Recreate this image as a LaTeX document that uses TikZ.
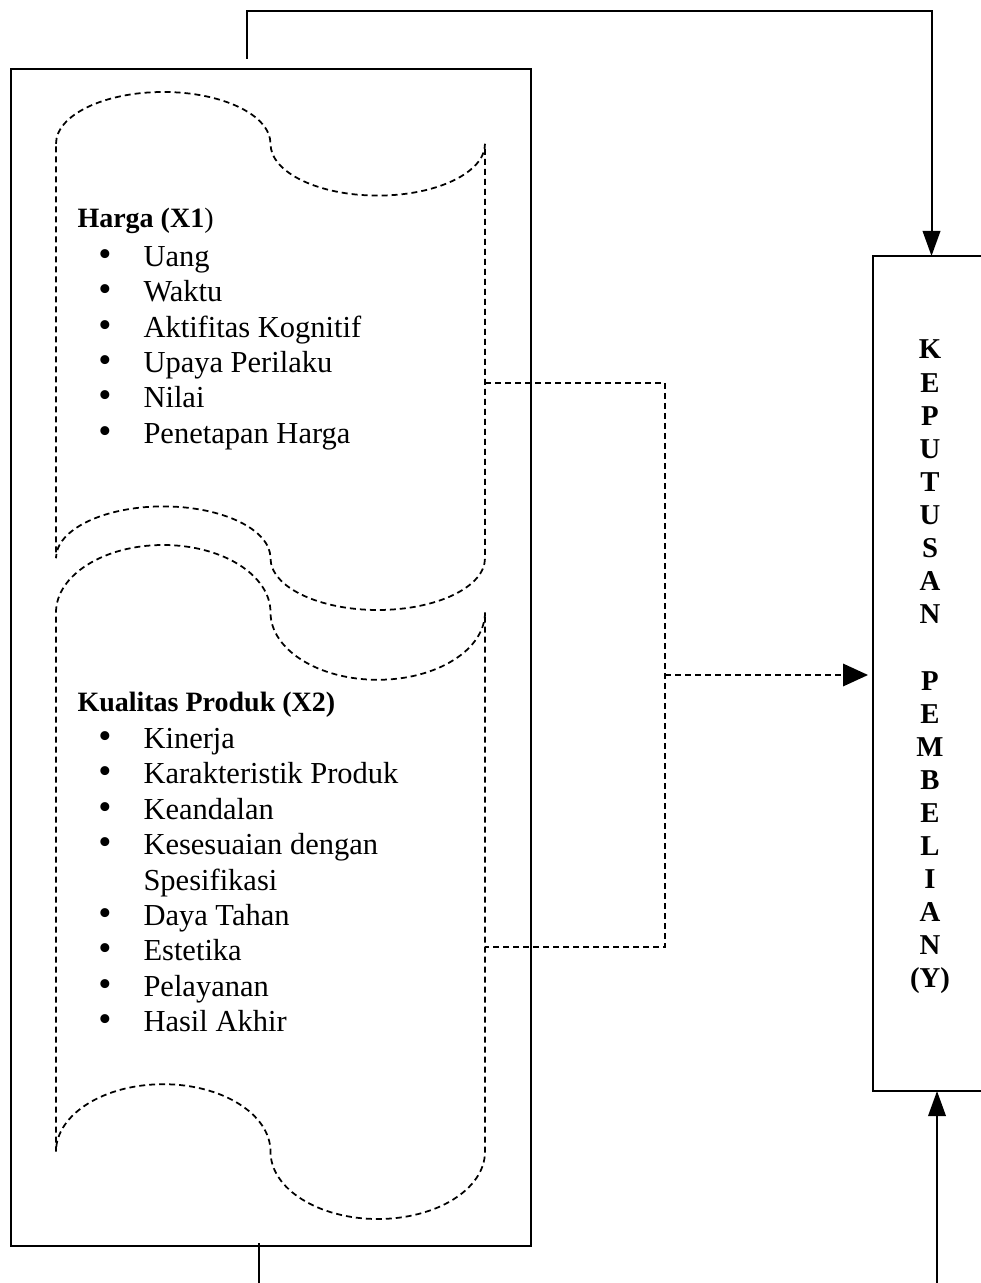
\documentclass[tikz,border=0pt]{standalone}
\usepackage{fontspec}
\setmainfont{Liberation Serif}
\usetikzlibrary{arrows.meta,calc}
\newcommand\drawtape[2]{%
  \pgfmathsetmacro\tT{#1}\pgfmathsetmacro\tB{#2}%
  \pgfmathsetmacro\ta{(\tB-\tT)/10}%
  \pgfmathsetmacro\mt{\tT+\ta}\pgfmathsetmacro\mb{\tB-\ta}%
  \pgfmathsetmacro\ka{0.5523*\ta}%
  \draw[dash line] (56,\mt) .. controls (56,{\mt-\ka}) and ({163.25-59.23},\tT) .. (163.25,\tT)
    .. controls ({163.25+59.23},\tT) and (270.5,{\mt-\ka}) .. (270.5,\mt)
    .. controls (270.5,{\mt+\ka}) and ({377.75-59.23},{\mt+\ta}) .. (377.75,{\mt+\ta})
    .. controls ({377.75+59.23},{\mt+\ta}) and (485,{\mt+\ka}) .. (485,\mt)
    -- (485,\mb)
    .. controls (485,{\mb+\ka}) and ({377.75+59.23},{\mb+\ta}) .. (377.75,{\mb+\ta})
    .. controls ({377.75-59.23},{\mb+\ta}) and (270.5,{\mb+\ka}) .. (270.5,\mb)
    .. controls (270.5,{\mb-\ka}) and ({163.25+59.23},{\mb-\ta}) .. (163.25,{\mb-\ta})
    .. controls ({163.25-59.23},{\mb-\ta}) and (56,{\mb-\ka}) .. (56,\mb)
    -- cycle;%
}
\begin{document}
\begin{tikzpicture}[x=0.4pt,y=-0.4pt,
  frame/.style={draw,line width=0.8pt,inner sep=0pt,outer sep=0pt},
  dash line/.style={line width=0.7pt,dash pattern=on 2.4pt off 1.6pt},
  conn/.style={line width=0.8pt},
  arr/.style={-{Triangle[length=10pt,width=7pt]}},
  harr/.style={-{Triangle[length=10pt,width=9pt]}},
  head/.style={font=\fontsize{11.2}{13}\selectfont\bfseries, anchor=base west, inner sep=0pt},
  item/.style={font=\fontsize{12.2}{14}\selectfont, anchor=base west, inner sep=0pt},
  bul/.style={font=\fontsize{15}{15}\selectfont, anchor=base, inner sep=0pt},
  ylet/.style={font=\fontsize{11.5}{13}\selectfont\bfseries, anchor=base, inner sep=0pt}]
\useasboundingbox (0,0) rectangle (980,1283);

% main boxes
\node[frame, anchor=north west, minimum width=208pt, minimum height=470.8pt] (left) at (11,69) {};
\node[frame, anchor=north west, minimum width=46.8pt, minimum height=334pt] (kp) at (873,256) {};

% tapes
\drawtape{92}{610}
\drawtape{545}{1219}

% texts of tape 1
\node[head] (h1) at (77,228) {Harga (X1\textmd{)}};
\foreach \t [count=\i] in {Uang,Waktu,Aktifitas Kognitif,Upaya Perilaku,Nilai,Penetapan Harga}{
  \node[bul] (ba\i) at (105,{231+\i*35.4}) {\textbullet};
  \node[item] (ia\i) at (143,{231+\i*35.4}) {\t};
}
% texts of tape 2
\node[head] (h2) at (77,711) {Kualitas Produk (X2)};
\foreach \t/\b [count=\i] in {Kinerja/1,Karakteristik Produk/1,Keandalan/1,Kesesuaian dengan/1,Spesifikasi/0,Daya Tahan/1,Estetika/1,Pelayanan/1,Hasil Akhir/1}{
  \ifnum\b=1 \node[bul] (bb\i) at (105,{713+\i*35.4}) {\textbullet};\fi
  \node[item] (ib\i) at (143,{713+\i*35.4}) {\t};
}

% vertical text in right box
\foreach \t [count=\i] in {K,E,P,U,T,U,S,A,N}{
  \node[ylet] (ya\i) at (930,{359+(\i-1)*33.1}) {\t};
}
\foreach \t [count=\i] in {P,E,M,B,E,L,I,A,N,(Y)}{
  \node[ylet] (yb\i) at (930,{359+(\i+9)*33.1}) {\t};
}

% connectors
\coordinate (tl) at (247,59);
\draw[conn,arr] (tl) -- ++(0,-48) -| (kp.north);
\coordinate (bl) at (259,1283);
\draw[conn] (bl) -- ($(bl |- left.south)+(0,-3)$);
\coordinate (br) at (937,1283);
\draw[conn,arr] (br) -- (br |- kp.south);

\coordinate (s1r) at (485,383);
\coordinate (s2r) at (485,947);
\coordinate (j) at (665,675);
\draw[dash line] (s1r) -| (j) |- (s2r);
\draw[dash line,harr,shorten >=2pt] (j) -- (j -| kp.west);
\end{tikzpicture}
\end{document}
